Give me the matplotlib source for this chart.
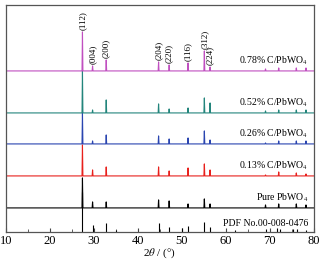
import numpy as np
import matplotlib
matplotlib.use("Agg")
import matplotlib.pyplot as plt

plt.rcParams['font.family'] = ['Liberation Serif', 'DejaVu Serif']
plt.rcParams['mathtext.fontset'] = 'stix'

# peak positions (2theta) and intensities
peaks = [27.4, 29.7, 32.8, 44.7, 47.1, 51.4, 55.1, 56.4, 69.0, 72.0, 76.0, 78.2]
pdf_peaks = [27.4, 29.7, 32.8, 35.0, 44.7, 47.1, 50.0, 51.4, 55.1, 56.4, 62.0, 69.0, 71.5, 72.2, 75.2, 76.2, 78.3]
pdf_int = [40, 7, 9, 2, 9, 5, 4, 6, 10, 5, 2, 3, 4, 3, 3, 3, 2]

names = ['Pure PbWO$_4$', '0.13% C/PbWO$_4$', '0.26% C/PbWO$_4$', '0.52% C/PbWO$_4$', '0.78% C/PbWO$_4$']
colors = ['black', '#e8201c', '#2a45b0', '#23857c', '#c04fc0']
offsets = [24, 56, 88, 119, 161]
intensity = [
    [30, 6, 6, 8, 7, 4, 9, 4, 3, 4, 4, 3],
    [31, 6, 9, 9, 5, 8, 12, 6, 1, 4, 3, 2],
    [31, 3, 9, 8, 5, 6, 13, 4, 1, 3, 3, 3],
    [42, 3, 13, 9, 4, 5, 15, 10, 2, 3, 3, 3],
    [39, 5, 11, 9, 6, 8, 20, 4, 2, 3, 3, 3],
]
hkl = ['(112)', '(004)', '(200)', '(204)', '(220)', '(116)', '(312)', '(224)']

fig = plt.figure(figsize=(3.27, 2.6), dpi=100)
ax = fig.add_axes([0.018, 0.108, 0.942, 0.873])

for name, c, off, inten in zip(names, colors, offsets, intensity):
    xs, ys = [10.0], [off]
    for p, h in zip(peaks, inten):
        xs += [p - 0.1, p, p + 0.1]
        ys += [off, off + h, off]
    xs.append(80.0)
    ys.append(off)
    ax.plot(xs, ys, color=c, lw=0.8)
    ax.text(78.6, off + 4, name, color='black', fontsize=7, ha='right', va='bottom')

ax.vlines(pdf_peaks, 0, pdf_int, color='black', lw=0.8)
ax.text(78.6, 4, 'PDF No.00-008-0476', fontsize=7, ha='right', va='bottom')

top = offsets[-1]
for p, h, lab in zip(peaks[:8], intensity[-1][:8], hkl):
    ax.text(p, top + h + 2, lab, rotation=90, fontsize=6.5, ha='center', va='bottom')

ax.set_xlim(10, 80)
ax.set_ylim(0, 227)
ax.set_yticks([])
ax.set_xticks(np.arange(10, 81, 10))
ax.set_xticks(np.arange(15, 80, 10), minor=True)
ax.tick_params(axis='x', direction='in', length=3, labelsize=9, pad=2, color='#444444')
ax.tick_params(axis='x', which='minor', direction='in', length=2, color='#444444')
for s in ax.spines.values():
    s.set_color('#555555')
    s.set_linewidth(0.9)
ax.set_xlabel(r'2$\theta$ / (°)', fontsize=8, labelpad=0)

fig.savefig('out.png', dpi=100)
